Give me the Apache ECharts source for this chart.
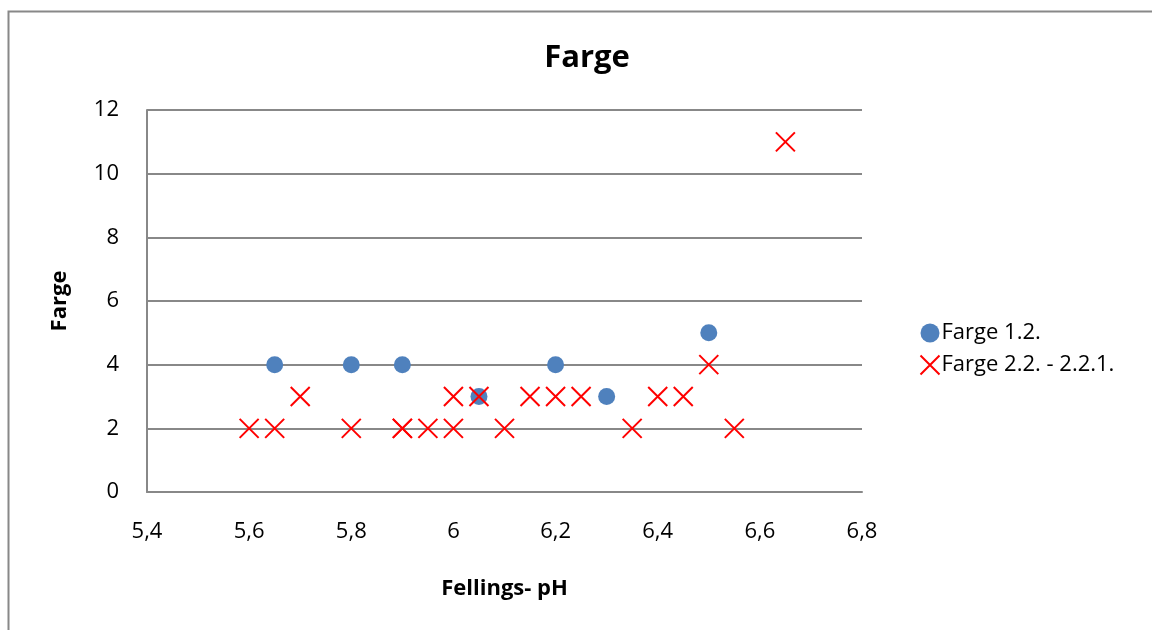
<!DOCTYPE html>
<html>
<head>
<meta charset="utf-8">
<script src="https://cdn.jsdelivr.net/npm/echarts@6/dist/echarts.min.js"></script>
<style>
  html, body { margin: 0; padding: 0; background: #fff; }
  #chart { width: 1152px; height: 630px; }
</style>
</head>
<body>
<div id="chart"></div>
<script>
// Fellings-pH against colour score, two sample groups
const seriesNames = ['Farge 1.2.', 'Farge 2.2. - 2.2.1.'];

const groupA_pH = [5.65, 5.8, 5.9, 6.05, 6.2, 6.3, 6.5];
const groupA_farge = [4, 4, 4, 3, 4, 3, 5];

const groupB_pH = [5.6, 5.65, 5.7, 5.8, 5.9, 5.9, 5.95, 6, 6, 6.05, 6.1, 6.15, 6.2, 6.25, 6.35, 6.4, 6.45, 6.5, 6.55, 6.65];
const groupB_farge = [2, 2, 3, 2, 2, 2, 2, 2, 3, 3, 2, 3, 3, 3, 2, 3, 3, 4, 2, 11];

const xTicks = { min: 5.4, max: 6.8, step: 0.2 };
const yTicks = { min: 0, max: 12, step: 2 };

const pairs = (xs, ys) => xs.map((x, i) => [x, ys[i]]);

const FONT = '"Open Sans", "Liberation Sans", sans-serif';
const GRID_COLOR = '#888888';
const crossPath = 'path://M0,0L10,10M10,0L0,10';

const chart = echarts.init(document.getElementById('chart'));
chart.setOption({
  animation: false,
  backgroundColor: '#ffffff',
  textStyle: { fontFamily: FONT, color: '#000' },
  graphic: [{
    type: 'rect',
    shape: { x: 8.5, y: 11.5, width: 1300, height: 800 },
    style: { fill: 'none', stroke: '#888888', lineWidth: 2 },
    silent: true
  }],
  title: {
    text: 'Farge',
    left: 582,
    top: 38,
    textAlign: 'center',
    textStyle: { fontFamily: FONT, fontSize: 31, fontWeight: 'bold', color: '#000' }
  },
  grid: { left: 147, right: 290, top: 110, bottom: 138 },
  legend: {
    orient: 'vertical',
    left: 913,
    top: 317,
    itemWidth: 19,
    itemHeight: 19,
    itemGap: 9,
    textStyle: { fontFamily: FONT, fontSize: 22, color: '#000', padding: [0, 0, 0, -3] },
    data: [
      { name: seriesNames[0], icon: 'circle' },
      { name: seriesNames[1], icon: crossPath, itemStyle: { color: 'none', borderColor: '#ff0000', borderWidth: 2 } }
    ]
  },
  xAxis: {
    type: 'value',
    min: xTicks.min,
    max: xTicks.max,
    interval: xTicks.step,
    name: 'Fellings- pH',
    nameLocation: 'middle',
    nameGap: 86,
    nameTextStyle: { fontFamily: FONT, fontSize: 22, fontWeight: 'bold', color: '#000' },
    axisLine: { show: true, lineStyle: { color: GRID_COLOR, width: 2 } },
    axisTick: { show: false },
    splitLine: { show: false },
    axisLabel: {
      margin: 29,
      fontFamily: FONT, fontSize: 22, color: '#000',
      formatter: v => String(+v.toFixed(1)).replace('.', ',')
    }
  },
  yAxis: {
    type: 'value',
    min: yTicks.min,
    max: yTicks.max,
    interval: yTicks.step,
    name: 'Farge',
    nameLocation: 'middle',
    nameGap: 76,
    nameTextStyle: { fontFamily: FONT, fontSize: 22, fontWeight: 'bold', color: '#000' },
    axisLine: { show: true, lineStyle: { color: GRID_COLOR, width: 2 } },
    axisTick: { show: false },
    splitLine: { show: true, lineStyle: { color: GRID_COLOR, width: 2 } },
    axisLabel: { margin: 28, fontFamily: FONT, fontSize: 22, color: '#000' }
  },
  series: [
    {
      name: seriesNames[0],
      type: 'scatter',
      symbol: 'circle',
      symbolSize: 17,
      itemStyle: { color: '#4f81bd', opacity: 1 },
      data: pairs(groupA_pH, groupA_farge),
      z: 2
    },
    {
      name: seriesNames[1],
      type: 'scatter',
      symbol: crossPath,
      symbolSize: 19,
      itemStyle: { color: 'none', borderColor: '#ff0000', borderWidth: 2, opacity: 1 },
      data: pairs(groupB_pH, groupB_farge),
      z: 3
    }
  ]
});
</script>
</body>
</html>
